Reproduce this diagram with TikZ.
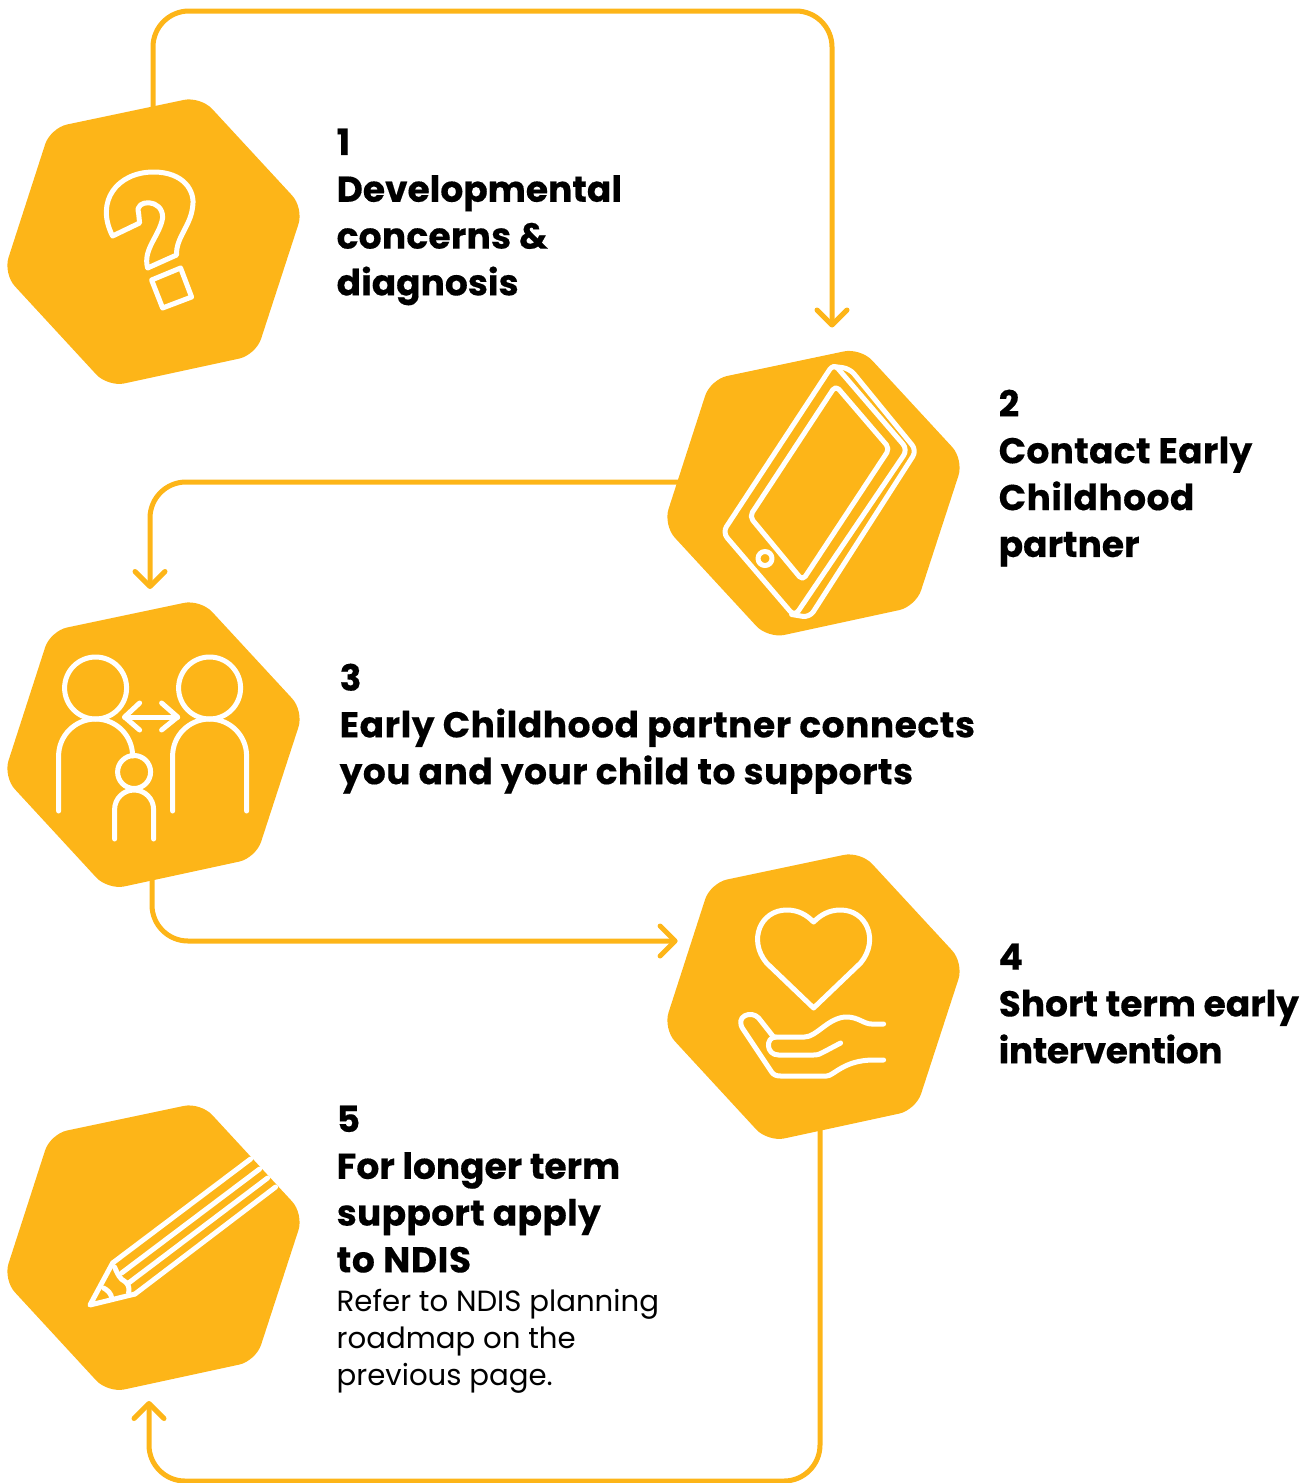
\documentclass[tikz,border=0pt]{standalone}
\usepackage{fontspec}
\setmainfont{Poppins}[BoldFeatures={FakeBold=0.35}]
\usetikzlibrary{arrows.meta,calc}
\definecolor{amber}{HTML}{FDB518}
\newcommand{\lsp}[2]{{\addfontfeature{LetterSpace=#1}#2}}
\tikzset{
 hexfill/.style={fill=amber,rounded corners=17pt},
 link/.style={draw=amber,line width=5pt,rounded corners=36pt,-{Straight Barb[length=15pt,width=30pt,line width=5pt,round]}},
 ico/.style={draw=white,line width=5pt,line cap=round,line join=round},
 hub/.style={inner sep=0pt,minimum size=1pt},
 head/.style={anchor=north west,inner sep=0pt,align=left,font=\fontsize{36}{46.8}\selectfont\bfseries},
 note/.style={anchor=north west,inner sep=0pt,align=left,font=\fontsize{29.2}{37}\selectfont},
}
\newcommand{\hexa}[1]{\path[hexfill,shift={(#1)}] (-103.2,-113) -- (47,-144.6) -- (150.1,-33) -- (102.2,114) -- (-45.8,146) -- (-150.3,32.7) -- cycle;}
\begin{document}
\begin{tikzpicture}[x=1pt,y=-1pt]
\useasboundingbox (0,0) rectangle (1314,1483);
\node[hub] (h1) at (153.6,241) {};
\node[hub] (h2) at (813.6,492.5) {};
\node[hub] (h3) at (153.6,744) {};
\node[hub] (h4) at (813.6,996) {};
\node[hub] (h5) at (153.6,1247) {};
\coordinate (p1) at ($(h1)+(-0.6,-125)$);
\coordinate (a2) at ($(h2)+(18.4,-165)$);
\coordinate (p2) at ($(h2)+(-125,-10.5)$);
\coordinate (a3) at ($(h3)+(-3.6,-155)$);
\coordinate (p3) at ($(h3)+(-1.6,125)$);
\coordinate (a4) at ($(h4)+(-136,-55)$);
\coordinate (p4) at ($(h4)+(6.4,125)$);
\coordinate (a5) at ($(h5)+(-4.6,154)$);
\draw[link] (p1) |- (832,11) -- (a2);
\draw[link] (p2) -| (a3);
\draw[link] (p3) |- (a4);
\draw[link] (p4) |- (149,1481) -- (a5);
\foreach \c in {h1,h2,h3,h4,h5}{\hexa{\c}}
% question mark
\begin{scope}[shift={(h1)}]
\draw[ico] (-41,-5) .. controls (-59,-40) and (-36,-69) .. (0,-69) .. controls (30,-69) and (42,-50) .. (39,-34) .. controls (37,-15) and (22,-3) .. (23,14) -- (-6,27) .. controls (-11,8) and (6,-5) .. (9,-23) .. controls (10,-43) and (-20,-42) .. (-15,-28) -- (-14,-18) -- cycle;
\draw[ico] (-2,39) -- (27,27) -- (38,56) -- (9,67) -- cycle;
\end{scope}
% tablet
\begin{scope}[shift={(h2)}]
\draw[ico,rounded corners=7pt] (20,-129) -- (-91,40) -- (-19,124) -- (94,-43) -- cycle;
\draw[ico,rounded corners=5pt] (22,-107) -- (-64,24) -- (-11,88) -- (76,-44) -- cycle;
\draw[ico,rounded corners=7pt] (20,-126) -- (36,-124) -- (103,-42) -- (-4,125) -- (-22,122);
\draw[ico] (-48.6,66) circle (7);
\end{scope}
% people
\begin{scope}[shift={(h3)}]
\draw[ico] (-58,-56) circle (31);
\draw[ico] (56,-56) circle (31);
\draw[ico] (-95,67) -- (-95,12) arc[start angle=180,end angle=360,radius=37];
\draw[ico] (19,67) -- (19,12) arc[start angle=180,end angle=360,radius=37] -- (93,67);
\draw[ico] (-19.5,28) circle (16.5);
\draw[ico] (-39,95) -- (-39,65.5) arc[start angle=180,end angle=360,radius=19.5] -- (0,95);
\draw[ico] (-29,-27) -- (24,-27);
\draw[ico] (-14,-41) -- (-29,-27) -- (-14,-14);
\draw[ico] (8,-41) -- (24,-27) -- (8,-14);
\end{scope}
% heart and hand
\begin{scope}[shift={(h4)}]
\draw[ico] (0,12) -- (-47,-33) .. controls (-66,-56) and (-53,-86) .. (-27,-86) .. controls (-15,-86) and (-7,-81) .. (0,-74) .. controls (7,-81) and (15,-86) .. (27,-86) .. controls (53,-86) and (66,-56) .. (47,-33) -- cycle;
\draw[ico] (70,28) -- (58,28) .. controls (50,28) and (45,21) .. (33,21) .. controls (15,21) and (3,41) .. (-9,41) -- (-40,41) -- (-55,22) .. controls (-62,14) and (-80,20) .. (-70,34) -- (-42,76) .. controls (-40,79) and (-37,80) .. (-33,80) -- (13,80) .. controls (20,80) and (30,64) .. (60,64) -- (70,64);
\draw[ico] (27,47) -- (10,56) .. controls (7,58) and (4,59) .. (0,59) -- (-35,59) .. controls (-48,59) and (-48,41) .. (-38,41);
\end{scope}
% pencil
\begin{scope}[shift={(h5)}]
\draw[ico] (-41,16) -- (97,-88);
\draw[ico] (-32,26) -- (106,-78);
\draw[ico] (-25,36) -- (114,-69);
\draw[ico] (-18.6,47) -- (122,-60);
\draw[ico] (-18.6,47) -- (-63.6,58) -- (-41,16);
\draw[ico] (-39,20) .. controls (-36,27) and (-34,32) .. (-28,35) .. controls (-25,38) and (-24,41) .. (-25,46);
\draw[ico] (-50,41) .. controls (-46,43) and (-42,47) .. (-42,51);
\end{scope}
\node[head] (t1) at (336.5,128.5) {1\\Developmental\\\lsp{0.7}{concerns \&}\\diagnosis};
\node[head] (t2) at (998.5,389.5) {2\\\lsp{0.8}{Contact Early}\\\lsp{1.3}{Childhood}\\partner};
\node[head] (t3) at (339.5,663.5) {3\\\lsp{1.5}{Early Childhood partner connects}\\\lsp{1.3}{you and your child to supports}};
\node[head] (t4) at (998.5,943.5) {4\\Short term early\\\lsp{-1.2}{intervention}};
\node[head] (t5) at (336.5,1105.5) {5\\For longer term\\\lsp{0.9}{support apply}\\\lsp{1.8}{to NDIS}};
\node[note] (t6) at (336.5,1289) {Refer to NDIS planning\\roadmap on the\\previous page.};
\end{tikzpicture}
\end{document}
